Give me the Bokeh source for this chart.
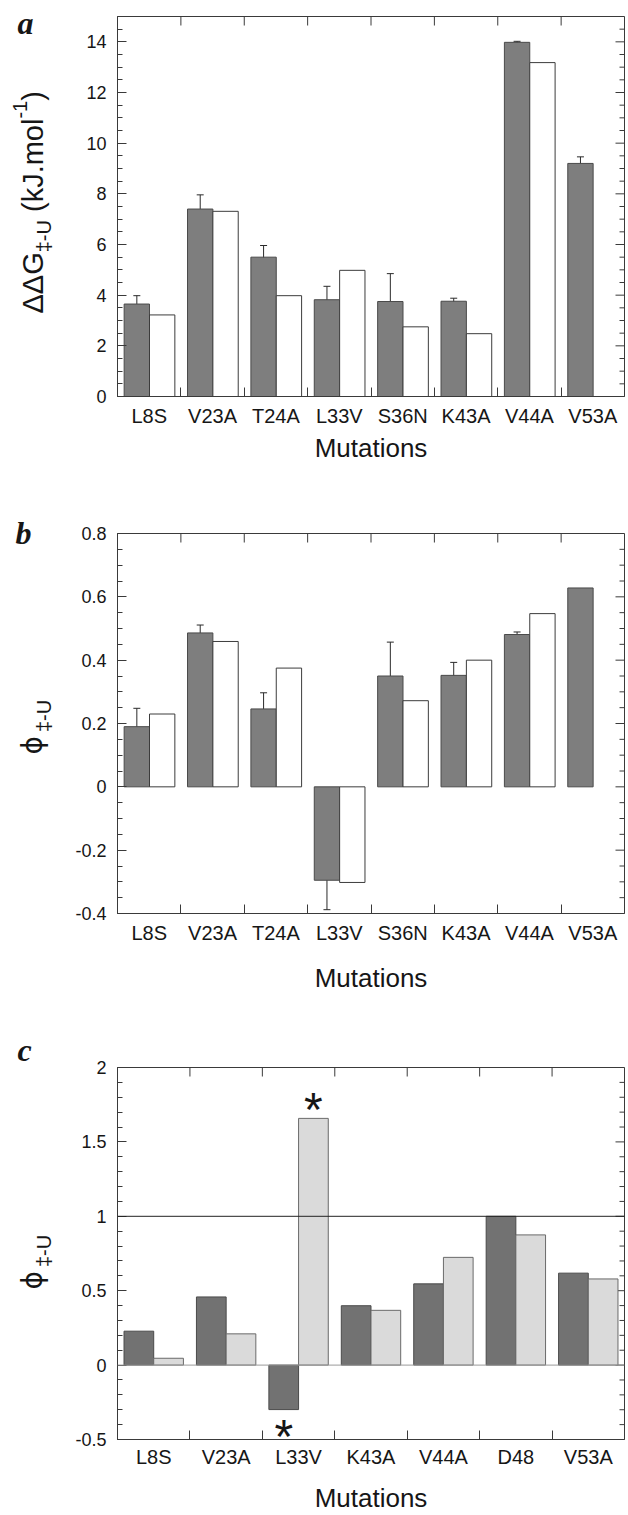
import math
from bokeh.plotting import figure
from bokeh.layouts import column, row
from bokeh.models import (Range1d, LinearAxis, FixedTicker, SingleIntervalTicker, Label,
                          CustomJSTickFormatter, Whisker, TeeHead, ColumnDataSource, Span)
from bokeh.embed import file_html
from bokeh.resources import INLINE
from bokeh.core.properties import value

NaN = float("nan")

# ---------------- data ----------------
# panel a : ddG(TS-U) in kJ/mol
a_mutations = ["L8S", "V23A", "T24A", "L33V", "S36N", "K43A", "V44A", "V53A"]
a_ddg_exp = [3.65, 7.40, 5.50, 3.82, 3.75, 3.76, 13.98, 9.20]
a_ddg_err = [0.33, 0.56, 0.46, 0.53, 1.10, 0.12, 0.04, 0.26]
a_ddg_sim = [3.22, 7.31, 3.98, 4.98, 2.75, 2.48, 13.18, NaN]

# panel b : phi(TS-U)
b_mutations = ["L8S", "V23A", "T24A", "L33V", "S36N", "K43A", "V44A", "V53A"]
b_phi_exp = [0.19, 0.486, 0.246, -0.295, 0.350, 0.352, 0.481, 0.628]
b_phi_err = [0.058, 0.025, 0.051, 0.093, 0.107, 0.041, 0.008, NaN]
b_phi_sim = [0.23, 0.459, 0.375, -0.302, 0.272, 0.400, 0.547, NaN]

# panel c : phi(TS-U), two data sets
c_mutations = ["L8S", "V23A", "L33V", "K43A", "V44A", "D48", "V53A"]
c_phi_1 = [0.228, 0.458, -0.299, 0.399, 0.546, 1.00, 0.618]
c_phi_2 = [0.046, 0.210, 1.658, 0.368, 0.724, 0.875, 0.579]
c_mark_1 = ["", "", "*", "", "", "", ""]
c_mark_2 = ["", "", "*", "", "", "", ""]

# ---------------- styles ----------------
FONT = "Liberation Sans"
PHI_FONT = "DejaVu Sans"
SERIF = "Liberation Serif"
INK = "#161616"
AXIS = "#3a3a3a"
PAGE_H = 1515
LABEL_W = 62
MAIN_W = 628 - LABEL_W
EM = {"Δ": 0.667, "G": 0.778, "‡": 0.556, "-": 0.333, "U": 0.722, " ": 0.278, "(": 0.333,
      "k": 0.5, "J": 0.5, ".": 0.278, "m": 0.833, "o": 0.556, "l": 0.222, "1": 0.556,
      ")": 0.333, "ϕ": 0.8}


def advance(s, size):
    return sum(EM.get(ch, 0.6) for ch in s) * size


def rotated_title(f, pieces, x0, page_y_start):
    y = PAGE_H - page_y_start
    for txt, size, dx, gap, font in pieces:
        f.text(x=[x0 + dx], y=[y], text=[txt], angle=math.pi / 2,
               text_font=value(font), text_font_size=f"{size}px", text_color=INK,
               text_align="left", text_baseline="alphabetic")
        y += advance(txt, size) + gap


def panel_letter(f, letter, x, page_y):
    f.add_layout(Label(x=x, y=PAGE_H - page_y, text=letter, text_font=SERIF,
                       text_font_style="bold italic", text_font_size="32px",
                       text_color=INK, text_align="left", text_baseline="alphabetic"))


def slot(cats, off):
    # category index -> position on the axis (category i occupies [i, i+1])
    return [i + 0.5 + off for i in range(len(cats))]


def tick_values(lo, hi, step):
    k0 = math.ceil(lo / step - 1e-9)
    k1 = math.floor(hi / step + 1e-9)
    return [k * step for k in range(k0, k1 + 1)]


def make_panel(cats, y0, y1, interval, n_minor, height, bl, br, bt, bb,
               cat_standoff, lab_standoff):
    n = len(cats)
    p = figure(width=MAIN_W, height=height, x_range=Range1d(0, n),
               y_range=Range1d(y0, y1), x_axis_location=None, y_axis_location="left",
               toolbar_location=None, output_backend="svg", title=None,
               min_border_left=bl, min_border_right=br, min_border_top=bt, min_border_bottom=bb)
    p.xgrid.visible = False
    p.ygrid.visible = False
    p.outline_line_color = AXIS
    p.outline_line_width = 1
    p.background_fill_color = "white"
    p.border_fill_color = "white"
    centers = slot(cats, 0)
    bounds = list(range(1, n))

    fmt = "return String(Math.round(tick*100)/100);"
    yax = p.yaxis[0]
    yax.ticker = SingleIntervalTicker(interval=interval, num_minor_ticks=n_minor)
    yax.formatter = CustomJSTickFormatter(code=fmt)
    yax.major_tick_in = 9
    yax.major_tick_out = 0
    yax.minor_tick_in = 5
    yax.minor_tick_out = 0
    yax.axis_line_color = AXIS
    yax.major_tick_line_color = AXIS
    yax.minor_tick_line_color = AXIS
    yax.major_label_text_font = FONT
    yax.major_label_text_font_size = "18px"
    yax.major_label_text_color = INK
    yax.major_label_standoff = 11

    # mirrored ticks on the right edge and category-boundary ticks on the top edge
    majors = tick_values(y0, y1, interval)
    minors = [v for v in tick_values(y0, y1, interval / n_minor)
              if min(abs(v - m) for m in majors) > 1e-6]
    p.ray(x=[n] * len(majors), y=majors, length=9, length_units="screen", angle=math.pi,
          line_color=AXIS, line_width=1)
    p.ray(x=[n] * len(minors), y=minors, length=5, length_units="screen", angle=math.pi,
          line_color=AXIS, line_width=1)
    p.ray(x=bounds, y=[y1] * len(bounds), length=9, length_units="screen",
          angle=-math.pi / 2, line_color=AXIS, line_width=1)

    xb = LinearAxis(ticker=FixedTicker(ticks=centers, minor_ticks=bounds),
                    major_label_overrides={c: name for c, name in zip(centers, cats)},
                    major_tick_line_color=None, major_tick_in=0, major_tick_out=0,
                    minor_tick_in=9, minor_tick_out=0, minor_tick_line_color=AXIS,
                    axis_line_color=AXIS,
                    major_label_text_font=FONT, major_label_text_font_size="20px",
                    major_label_text_color=INK, major_label_standoff=cat_standoff,
                    axis_label="Mutations", axis_label_text_font=FONT,
                    axis_label_text_font_size="26px", axis_label_text_font_style="normal",
                    axis_label_text_color=INK, axis_label_standoff=lab_standoff)
    p.add_layout(xb, "below")
    return p


def add_bars(p, cats, vals, off, w, fill, line):
    keep = [i for i, v in enumerate(vals) if not math.isnan(v)]
    xs = slot(cats, off)
    src = ColumnDataSource(dict(x=[xs[i] for i in keep], val=[vals[i] for i in keep]))
    p.vbar(x="x", top="val", bottom=0, width=w, source=src,
           fill_color=fill, line_color=line, line_width=1)


def add_errors(p, cats, vals, errs, off):
    keep = [i for i, e in enumerate(errs) if not math.isnan(e)]
    xs = slot(cats, off)
    src = ColumnDataSource(dict(x=[xs[i] for i in keep],
                                upper=[vals[i] + errs[i] for i in keep],
                                lower=[vals[i] - errs[i] for i in keep]))
    w = Whisker(base="x", upper="upper", lower="lower",
                source=src, line_color="#2a2a2a", line_width=1,
                upper_head=TeeHead(size=7, line_color="#2a2a2a", line_width=1),
                lower_head=TeeHead(size=7, line_color="#2a2a2a", line_width=1))
    p.add_layout(w)


DARK = "#7e7e7e"
DARK_LINE = "#4a4a4a"
BL = 117 - LABEL_W

# ---------------- panel a ----------------
pa = make_panel(a_mutations, 0, 15, 2, 4, 490, BL, 4, 16, 94, 8, 3)
add_bars(pa, a_mutations, a_ddg_exp, -0.195, 0.40, DARK, DARK_LINE)
add_bars(pa, a_mutations, a_ddg_sim, 0.205, 0.40, "white", "#3c3c3c")
add_errors(pa, a_mutations, a_ddg_exp, a_ddg_err, -0.195)

# ---------------- panel b ----------------
pb = make_panel(b_mutations, -0.4, 0.8, 0.2, 4, 510, BL, 4, 43, 87, 8, 16)
add_bars(pb, b_mutations, b_phi_exp, -0.195, 0.40, DARK, DARK_LINE)
add_bars(pb, b_mutations, b_phi_sim, 0.205, 0.40, "white", "#3c3c3c")
add_errors(pb, b_mutations, b_phi_exp, b_phi_err, -0.195)

# ---------------- panel c ----------------
pc = make_panel(c_mutations, -0.5, 2, 0.5, 5, 515, BL, 4, 67, 68, 6, 12)
pc.add_layout(Span(location=0, dimension="width", line_color="#9a9a9a", line_width=1))
add_bars(pc, c_mutations, c_phi_1, -0.205, 0.41, "#727272", "#4a4a4a")
add_bars(pc, c_mutations, c_phi_2, 0.205, 0.41, "#dadada", "#6a6a6a")
pc.add_layout(Span(location=1, dimension="width", line_color="#222222", line_width=1))
sm2 = ColumnDataSource(dict(x=slot(c_mutations, 0.205), val=c_phi_2, mark=c_mark_2))
pc.text(x="x", y="val", text="mark", source=sm2,
        text_font=value(FONT), text_font_size="48px", text_align="center",
        text_baseline="alphabetic", y_offset=-9, text_color=INK)
sm1 = ColumnDataSource(dict(x=slot(c_mutations, -0.205), val=c_phi_1, mark=c_mark_1))
pc.text(x="x", y="val", text="mark", source=sm1,
        text_font=value(FONT), text_font_size="48px", text_align="center",
        text_baseline="alphabetic", y_offset=27, text_color=INK)

# ---------------- left strip: axis titles and panel letters (pixel ranges) ----------------
strip = figure(width=LABEL_W, height=PAGE_H, x_range=Range1d(0, LABEL_W),
               y_range=Range1d(0, PAGE_H), x_axis_location=None, y_axis_location=None,
               toolbar_location=None, output_backend="svg", title=None,
               min_border_left=0, min_border_right=0, min_border_top=0, min_border_bottom=0)
strip.xgrid.visible = False
strip.ygrid.visible = False
strip.outline_line_color = None
strip.background_fill_color = "white"
strip.border_fill_color = "white"

rotated_title(strip, [("ΔΔG", 29, 0, 0, FONT), ("‡-U", 20, 11, 8, FONT),
                      ("(kJ.mol", 29, 0, 0, FONT), ("-1", 20, -13, 0, FONT),
                      (")", 29, 0, 0, FONT)], 32, 313)
rotated_title(strip, [("ϕ", 28, 0, 0, PHI_FONT), ("‡-U", 20, 11, 0, FONT)], 32, 754)
rotated_title(strip, [("ϕ", 28, 0, 0, PHI_FONT), ("‡-U", 20, 11, 0, FONT)], 32, 1289)
panel_letter(strip, "a", 17, 22)
panel_letter(strip, "b", 15, 532)
panel_letter(strip, "c", 17, 1049)

layout = row(strip, column(pa, pb, pc, spacing=0), spacing=0)
open("out.html", "w").write(file_html(layout, INLINE))
